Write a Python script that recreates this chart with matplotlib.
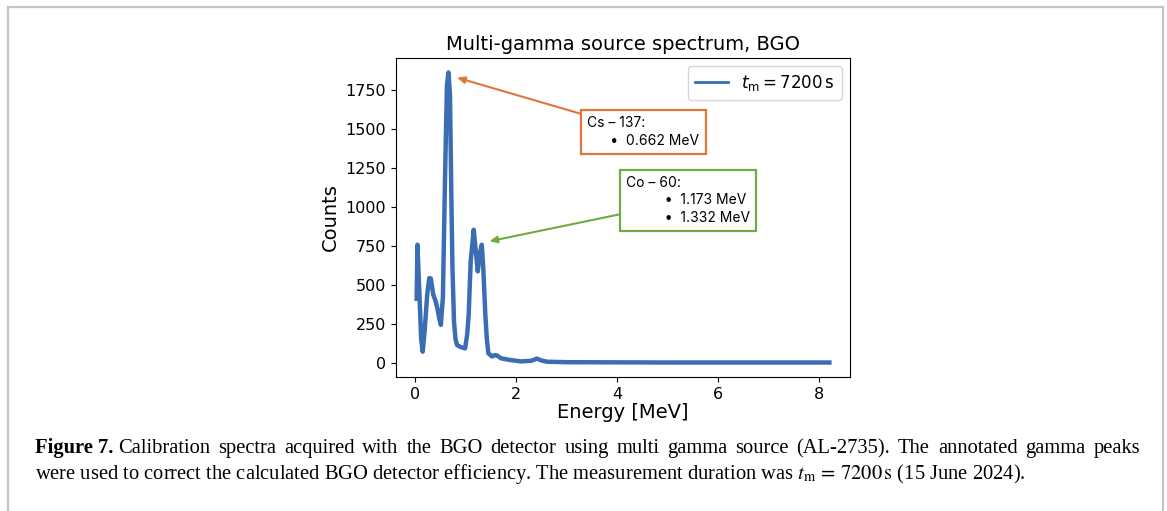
import numpy as np
import matplotlib
matplotlib.use("Agg")
import matplotlib.pyplot as plt
from matplotlib.lines import Line2D

# spectrum (energy in MeV, counts)
energy = [0.03, 0.046, 0.08, 0.12, 0.15, 0.19, 0.24, 0.28, 0.31, 0.36, 0.40,
          0.44, 0.48, 0.51, 0.55, 0.59, 0.63, 0.66, 0.69, 0.72, 0.74, 0.77,
          0.80, 0.83, 0.90, 0.99, 1.03, 1.06, 1.10, 1.16, 1.20, 1.24, 1.28,
          1.32, 1.35, 1.39, 1.42, 1.45, 1.52, 1.58, 1.62, 1.70, 1.88, 2.10,
          2.30, 2.41, 2.50, 2.61, 3.00, 4.00, 5.00, 6.00, 7.00, 8.20]
counts = [410, 756, 480, 150, 70, 210, 440, 542, 540, 435, 400,
          349, 280, 242, 420, 1150, 1780, 1860, 1720, 1000, 600, 260,
          150, 113, 100, 92, 180, 306, 650, 852, 720, 585, 700,
          756, 600, 306, 150, 60, 40, 48, 46, 28, 17, 8,
          12, 26, 14, 6, 3, 2, 1, 1, 1, 1]

title = "Multi-gamma source spectrum, BGO"
legend_label = r"$t_\mathrm{m} = 7200\,\mathrm{s}$"
cs_label = "Cs \u2013 137:\n      \u2022  0.662 MeV"
co_label = "Co \u2013 60:\n          \u2022  1.173 MeV\n          \u2022  1.332 MeV"
cs_peak = (0.83, 1827)
co_peak = (1.47, 778)

caption_bold = "Figure 7."
caption_1 = ("Calibration spectra acquired with the BGO detector using multi gamma "
             "source (AL-2735). The annotated gamma peaks")
caption_2 = (r"were used to correct the calculated BGO detector efficiency. "
             r"The measurement duration was $t_\mathrm{m}\,=\,7200\,\mathrm{s}$ (15 June 2024).")

blue = "#3b6db3"
orange = "#dd7639"
green = "#6fab44"

W, H = 1167, 511
fig = plt.figure(figsize=(W / 100, H / 100), dpi=100)
ax = fig.add_axes([396 / W, 1 - 377 / H, (850 - 396) / W, (377 - 58) / H])

ax.plot(energy, counts, color=blue, lw=3.2, solid_joinstyle="round",
        label=legend_label)
ax.set_title(title, fontsize=14, pad=6)
ax.set_xlabel("Energy [MeV]", fontsize=14, labelpad=1)
ax.set_ylabel("Counts", fontsize=14)
ax.set_xticks([0, 2, 4, 6, 8])
ax.set_yticks(np.arange(0, 1751, 250))
ax.tick_params(labelsize=11.5)
leg = ax.legend(loc="upper right", fontsize=12, handlelength=2.0)
leg.get_lines()[0].set_linewidth(2)

box_font = dict(family=["Inter", "DejaVu Sans"], fontsize=10, linespacing=1.3)
arrow = "-|>,head_length=0.45,head_width=0.2"
ax.annotate(cs_label, xy=cs_peak, xytext=(3.41, 1478), textcoords="data",
            ha="left", va="center", **box_font,
            bbox=dict(boxstyle="square,pad=0.45", fc="white", ec=orange, lw=1.6),
            arrowprops=dict(arrowstyle=arrow, color=orange, lw=1.5,
                            shrinkA=0, shrinkB=0))
ax.annotate(co_label, xy=co_peak, xytext=(4.17, 1041), textcoords="data",
            ha="left", va="center", **box_font,
            bbox=dict(boxstyle="square,pad=0.45", fc="white", ec=green, lw=1.6),
            arrowprops=dict(arrowstyle=arrow, color=green, lw=1.5,
                            shrinkA=0, shrinkB=0))

# caption below the chart, first line justified to the right edge
cap_font = dict(family="Liberation Serif", fontsize=14.8, math_fontfamily="stix")
y1 = 1 - 453 / H
t_bold = fig.text(35 / W, y1, caption_bold, fontweight="bold",
                  va="baseline", **cap_font)
renderer = fig.canvas.get_renderer()
x0 = t_bold.get_window_extent(renderer).x1 + 5
x_end = 1140
words = [fig.text(0, y1, w, va="baseline", **cap_font) for w in caption_1.split()]
widths = [t.get_window_extent(renderer).width for t in words]
gap = (x_end - x0 - sum(widths)) / (len(words) - 1)
x = x0
for t, w in zip(words, widths):
    t.set_x(x / W)
    x += w + gap
fig.text(35 / W, 1 - 479 / H, caption_2, va="baseline", **cap_font)

# page frame
frame = dict(color="#c4c4c4", lw=1.6, transform=fig.transFigure)
fig.add_artist(Line2D([8 / W, 8 / W], [0, 1 - 7 / H], **frame))
fig.add_artist(Line2D([8 / W, 1163 / W], [1 - 7 / H, 1 - 7 / H], **frame))
fig.add_artist(Line2D([1163 / W, 1163 / W], [0, 1 - 7 / H], **frame))

fig.savefig("out.png", dpi=100)
